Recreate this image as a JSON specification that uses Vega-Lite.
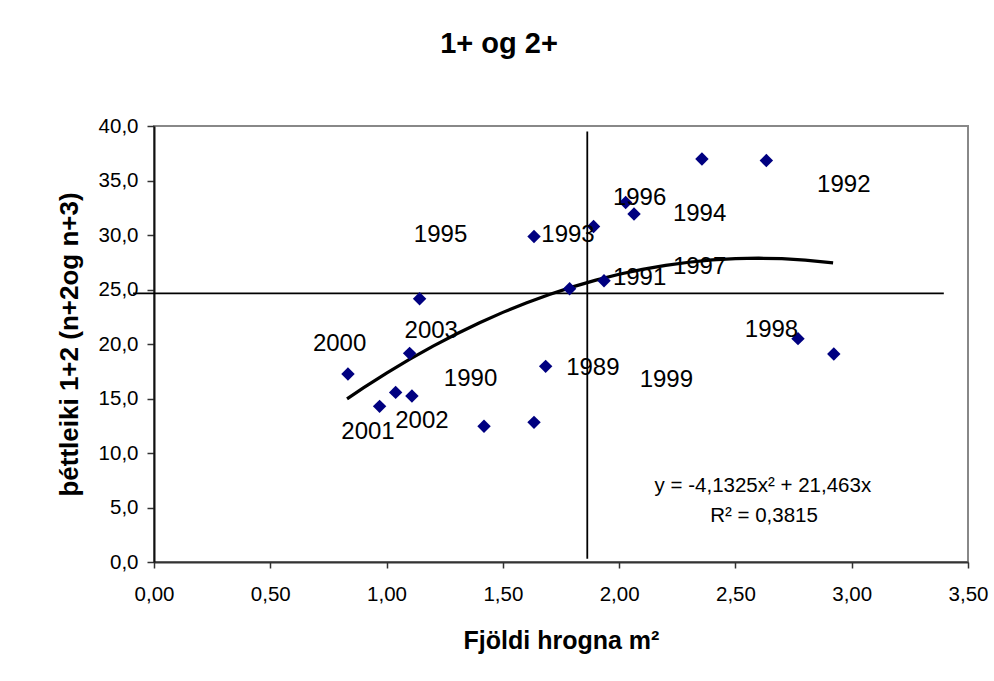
{
  "$schema": "https://vega.github.io/schema/vega-lite/v6.json",
  "autosize": {"type": "none"},
  "padding": {"left": 154, "top": 126, "right": 26, "bottom": 119},
  "width": 814,
  "height": 436,
  "background": "white",
  "title": {
    "text": "1+ og 2+",
    "font": "Liberation Sans",
    "fontSize": 29,
    "fontWeight": "bold",
    "color": "black",
    "anchor": "middle",
    "frame": "group",
    "dx": -62,
    "offset": 57
  },
  "config": {
    "view": {"stroke": "#888888", "strokeWidth": 2},
    "font": "Liberation Sans"
  },
  "datasets": {
    "pts": [
      {"x": 1.634, "y": 29.86},
      {"x": 1.890, "y": 30.78},
      {"x": 2.028, "y": 32.98},
      {"x": 2.064, "y": 31.92},
      {"x": 2.356, "y": 36.98},
      {"x": 1.935, "y": 25.80},
      {"x": 1.787, "y": 25.07},
      {"x": 2.633, "y": 36.83},
      {"x": 2.769, "y": 20.49},
      {"x": 2.923, "y": 19.08},
      {"x": 1.142, "y": 24.15},
      {"x": 1.099, "y": 19.14},
      {"x": 0.834, "y": 17.25},
      {"x": 1.039, "y": 15.56},
      {"x": 1.109, "y": 15.23},
      {"x": 0.970, "y": 14.28},
      {"x": 1.419, "y": 12.45},
      {"x": 1.634, "y": 12.81},
      {"x": 1.684, "y": 17.95}
    ],
    "labels": [
      {"x": 1.887, "y": 17.80, "t": "1989"},
      {"x": 1.361, "y": 16.79, "t": "1990"},
      {"x": 2.088, "y": 26.05, "t": "1991"},
      {"x": 2.966, "y": 34.60, "t": "1992"},
      {"x": 1.780, "y": 30.02, "t": "1993"},
      {"x": 2.346, "y": 31.92, "t": "1994"},
      {"x": 1.232, "y": 30.02, "t": "1995"},
      {"x": 2.088, "y": 33.38, "t": "1996"},
      {"x": 2.346, "y": 27.11, "t": "1997"},
      {"x": 2.655, "y": 21.31, "t": "1998"},
      {"x": 2.203, "y": 16.73, "t": "1999"},
      {"x": 0.798, "y": 20.03, "t": "2000"},
      {"x": 0.920, "y": 11.90, "t": "2001"},
      {"x": 1.152, "y": 12.91, "t": "2002"},
      {"x": 1.192, "y": 21.15, "t": "2003"}
    ],
    "eq": [
      {"x": 2.618, "y": 6.95, "t": "y = -4,1325x² + 21,463x"},
      {"x": 2.623, "y": 4.26, "t": "R² = 0,3815"}
    ],
    "trend": [
      {"x": 0.83, "y": 14.97},
      {"x": 0.9, "y": 15.97},
      {"x": 1.0, "y": 17.33},
      {"x": 1.1, "y": 18.61},
      {"x": 1.2, "y": 19.81},
      {"x": 1.3, "y": 20.92},
      {"x": 1.4, "y": 21.95},
      {"x": 1.5, "y": 22.90},
      {"x": 1.6, "y": 23.76},
      {"x": 1.7, "y": 24.55},
      {"x": 1.8, "y": 25.24},
      {"x": 1.9, "y": 25.86},
      {"x": 2.0, "y": 26.40},
      {"x": 2.1, "y": 26.85},
      {"x": 2.2, "y": 27.22},
      {"x": 2.3, "y": 27.50},
      {"x": 2.4, "y": 27.71},
      {"x": 2.5, "y": 27.83},
      {"x": 2.6, "y": 27.87},
      {"x": 2.7, "y": 27.83},
      {"x": 2.8, "y": 27.70},
      {"x": 2.92, "y": 27.44}
    ],
    "rules": [
      {"x": -0.09, "x2": 3.396, "y": 24.64, "y2": 24.64},
      {"x": 1.863, "x2": 1.863, "y": 0.3, "y2": 39.5}
    ]
  },
  "encoding": {
    "x": {
      "field": "x",
      "type": "quantitative",
      "scale": {"domain": [0, 3.5], "nice": false, "zero": false},
      "axis": {
        "values": [0, 0.5, 1, 1.5, 2, 2.5, 3, 3.5],
        "labelExpr": "replace(format(datum.value, '.2f'), '.', ',')",
        "labelFont": "Liberation Sans",
        "labelFontSize": 20.5,
        "labelColor": "black",
        "labelPadding": 16,
        "labelFlush": false,
        "tickSize": 6,
        "tickColor": "#333333",
        "tickWidth": 1.5,
        "domainColor": "#333333",
        "domainWidth": 2,
        "grid": false,
        "title": "Fjöldi hrogna m²",
        "titleFont": "Liberation Sans",
        "titleFontSize": 25,
        "titleFontWeight": "bold",
        "titleColor": "black",
        "titlePadding": 24
      }
    },
    "y": {
      "field": "y",
      "type": "quantitative",
      "scale": {"domain": [0, 40], "nice": false, "zero": false},
      "axis": {
        "values": [0, 5, 10, 15, 20, 25, 30, 35, 40],
        "labelExpr": "replace(format(datum.value, '.1f'), '.', ',')",
        "labelFont": "Liberation Sans",
        "labelFontSize": 20.5,
        "labelColor": "black",
        "labelPadding": 9,
        "labelFlush": false,
        "tickSize": 7,
        "tickColor": "#333333",
        "tickWidth": 1.5,
        "domainColor": "#111111",
        "domainWidth": 2,
        "grid": false,
        "title": "þéttleiki 1+2 (n+2og n+3)",
        "titleFont": "Liberation Sans",
        "titleFontSize": 26,
        "titleFontWeight": "bold",
        "titleColor": "black",
        "titlePadding": 16
      }
    }
  },
  "layer": [
    {
      "data": {"name": "rules"},
      "mark": {"type": "rule", "color": "black", "strokeWidth": 1.8},
      "encoding": {
        "x2": {"field": "x2"},
        "y2": {"field": "y2"}
      }
    },
    {
      "data": {"name": "trend"},
      "mark": {"type": "line", "color": "black", "strokeWidth": 3.2},
      "encoding": {}
    },
    {
      "data": {"name": "pts"},
      "mark": {"type": "point", "shape": "diamond", "filled": true, "color": "#000080", "size": 180, "opacity": 1},
      "encoding": {}
    },
    {
      "data": {"name": "labels"},
      "mark": {"type": "text", "font": "Liberation Sans", "fontSize": 24, "color": "black", "align": "center", "baseline": "middle"},
      "encoding": {"text": {"field": "t"}}
    },
    {
      "data": {"name": "eq"},
      "mark": {"type": "text", "font": "Liberation Sans", "fontSize": 20.5, "color": "black", "align": "center", "baseline": "middle"},
      "encoding": {"text": {"field": "t"}}
    }
  ]
}
